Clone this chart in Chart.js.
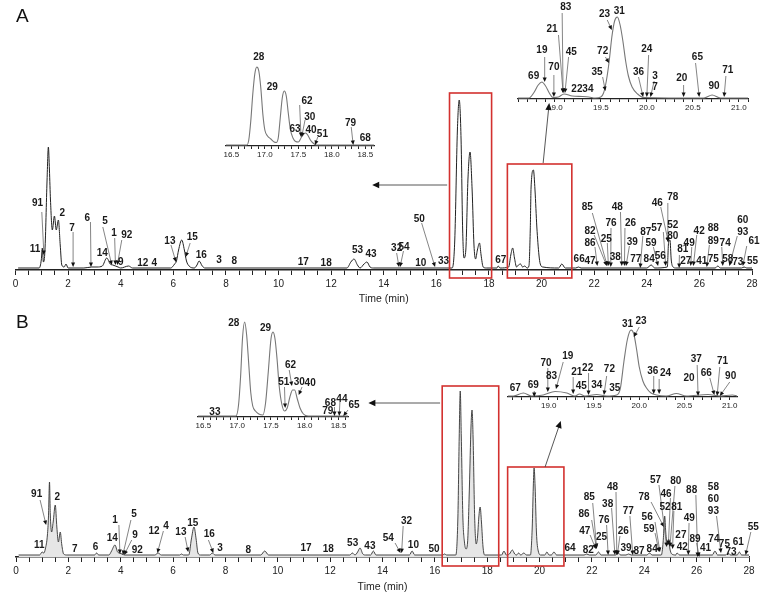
<!DOCTYPE html>
<html lang="en">
<head>
<meta charset="UTF-8">
<title>Chromatograms A and B</title>
<script src="https://cdn.jsdelivr.net/npm/chart.js"></script>
<style>
  html, body { margin: 0; padding: 0; background: #fff; overflow: hidden; }
  #page { position: relative; width: 773px; height: 593px; font-family: Arial, "Liberation Sans", sans-serif; }
  canvas { position: absolute; }
  .tag { position: absolute; font-size: 19px; line-height: 1; color: #111; }
</style>
</head>
<body>
<div id="page">
  <canvas id="mainA"></canvas>
  <canvas id="mainB"></canvas>
  <canvas id="insetA1"></canvas>
  <canvas id="insetA2"></canvas>
  <canvas id="insetB1"></canvas>
  <canvas id="insetB2"></canvas>
  <div class="tag" style="left:16px;top:6px">A</div>
  <div class="tag" style="left:16px;top:312px">B</div>
</div>

<script>
// ---- traces: [time (min), signal] ----
const traceA = [[0.1,2],[0.9,2],[0.98,10],[1.02,22],[1.06,8],[1.12,20],[1.2,90],[1.25,123],[1.29,100],[1.33,70],[1.4,40],[1.48,54],[1.55,40],[1.63,50],[1.7,25],[1.76,5],[1.85,3],[1.92,6],[2.0,2],[2.6,2],[2.9,3],[3.1,3],[3.3,4],[3.47,12],[3.6,6],[3.7,5],[3.8,4],[3.9,3],[4.0,2],[4.3,4],[4.45,2],[5.9,2],[6.05,6],[6.12,9],[6.2,20],[6.32,30],[6.42,20],[6.5,9],[6.6,4],[6.8,2],[6.9,5],[6.98,9],[7.1,4],[7.2,2],[12.6,2],[12.75,8],[12.87,11],[13.0,5],[13.1,2],[13.25,6],[13.36,8],[13.48,3],[13.6,2],[16.6,2],[16.7,30],[16.8,140],[16.87,170],[16.94,130],[17.0,40],[17.05,12],[17.12,20],[17.2,90],[17.28,118],[17.36,80],[17.43,25],[17.49,11],[17.56,20],[17.64,27],[17.7,15],[17.78,3],[17.9,2],[18.3,2],[18.35,4],[18.42,2],[18.75,3],[18.83,15],[18.9,22],[18.97,12],[19.05,3],[19.12,5],[19.2,6],[19.28,3],[19.36,4],[19.45,2],[19.52,4],[19.57,40],[19.6,82],[19.69,100],[19.75,80],[19.82,43],[19.9,15],[19.95,6],[20.05,3],[20.65,2],[20.77,6],[20.9,2],[21.3,2],[21.4,3],[21.5,2],[24.0,2],[24.17,5],[24.3,2],[24.78,3],[24.83,28],[24.88,30],[24.93,10],[25.0,3],[25.1,2],[26.6,2],[26.7,4],[26.8,2],[27.6,2],[27.7,3],[27.8,2],[28,2]];

const traceB = [[0.1,2],[0.9,2],[1.0,5],[1.06,4],[1.12,8],[1.2,22],[1.24,40],[1.28,75],[1.31,43],[1.36,25],[1.42,35],[1.5,52],[1.56,30],[1.62,15],[1.69,25],[1.75,12],[1.82,3],[1.95,2],[3.0,2],[3.08,4],[3.16,2],[3.55,2],[3.65,6],[3.78,12],[3.88,5],[3.95,4],[4.05,3],[4.15,2],[5.3,2],[5.43,4],[5.55,2],[6.25,2],[6.32,3],[6.4,2],[6.6,2],[6.7,18],[6.8,30],[6.88,18],[6.95,4],[7.05,2],[7.4,2],[7.5,4],[7.6,2],[9.35,2],[9.5,6],[9.65,2],[12.75,2],[12.85,4],[12.95,2],[13.05,5],[13.14,9],[13.25,3],[13.35,2],[13.55,2],[13.65,6],[13.75,2],[15.03,2],[15.13,6],[15.23,2],[16.3,2],[16.37,3],[16.45,2],[16.8,2],[16.88,40],[16.93,120],[16.97,166],[17.01,120],[17.07,40],[17.13,15],[17.19,8],[17.25,15],[17.32,70],[17.38,130],[17.42,147],[17.46,120],[17.52,40],[17.58,13],[17.63,20],[17.68,40],[17.73,50],[17.78,35],[17.84,10],[17.9,2],[18.55,2],[18.64,6],[18.73,2],[18.85,3],[18.96,7],[19.05,3],[19.12,2],[19.2,4],[19.28,2],[19.4,4],[19.5,2],[19.65,2],[19.72,30],[19.76,70],[19.79,89],[19.83,70],[19.88,25],[19.95,6],[20.05,2],[20.2,2],[20.28,5],[20.36,2],[20.45,2],[20.55,5],[20.65,2],[21.7,2],[21.8,3],[21.9,2],[22.15,2],[22.25,5],[22.35,2],[22.9,2],[23.0,4],[23.1,2],[23.3,2],[23.4,3],[23.5,2],[24.1,2],[24.2,4],[24.3,2],[24.65,2],[24.72,15],[24.78,41],[24.82,25],[24.88,12],[24.93,18],[24.98,8],[25.05,3],[25.2,2],[25.25,4],[25.35,2],[26.6,2],[26.7,6],[26.8,2],[27.1,2],[27.2,4],[27.3,2],[27.55,2],[27.63,5],[27.72,2],[28,2]];

const insetA1 = [[16.42,1],[16.73,1],[16.76,6],[16.79,25],[16.82,52],[16.85,72],[16.88,79],[16.91,75],[16.94,58],[16.97,32],[17.0,16],[17.04,10],[17.09,7],[17.14,4],[17.17,3.5],[17.2,8],[17.23,28],[17.26,48],[17.29,55],[17.32,50],[17.35,33],[17.38,17],[17.42,8],[17.46,4.5],[17.5,4],[17.54,8],[17.58,12],[17.61,13],[17.64,11],[17.68,6],[17.72,3],[17.77,1],[18.63,1]];
const insetA2 = [[18.6,1],[18.72,1],[18.77,6],[18.82,14],[18.86,17],[18.9,13],[18.94,6],[18.98,1.5],[19.04,2],[19.1,5],[19.19,3],[19.3,2.5],[19.37,2],[19.44,1],[19.5,2],[19.53,6],[19.56,18],[19.59,37],[19.62,62],[19.65,78],[19.68,82],[19.71,74],[19.74,58],[19.77,38],[19.8,23],[19.84,12],[19.9,5],[19.97,1.5],[20.62,1],[20.71,4],[20.8,1],[21.1,1]];
const insetB1 = [[16.42,1],[16.98,1],[17.02,12],[17.05,40],[17.08,80],[17.11,95],[17.14,82],[17.17,54],[17.2,25],[17.23,11],[17.27,6],[17.32,3],[17.38,2],[17.42,14],[17.46,45],[17.5,78],[17.53,85],[17.56,78],[17.59,58],[17.62,32],[17.66,13],[17.7,6],[17.74,9],[17.78,20],[17.82,27],[17.85,27],[17.89,18],[17.93,9],[17.98,3],[18.05,1],[18.64,1]];
const insetB2 = [[18.55,1],[18.61,1],[18.72,4],[18.81,1],[18.94,2],[19.07,5.5],[19.2,4],[19.29,1],[19.34,3],[19.4,1],[19.53,2.5],[19.64,1],[19.75,2],[19.79,8],[19.83,35],[19.87,58],[19.91,67],[19.94,63],[19.97,48],[20.0,30],[20.04,16],[20.08,9],[20.13,4],[20.19,2],[20.3,1],[20.41,3.5],[20.52,1],[20.76,2.5],[20.89,1],[21.03,2],[21.08,1]];

// ---- peak numbers: [text, time, height] and pointer arrows [t1, h1, t2, h2] ----
const labelsA = [['91',0.84,67],['2',1.78,57],['11',0.74,21],['7',2.15,42],['6',2.73,52],['5',3.40,49],['1',3.75,37],['92',4.23,35],['14',3.30,17],['9',4.00,8],['12',4.84,7],['4',5.28,7],['13',5.87,29],['15',6.72,33],['16',7.06,15],['3',7.74,10],['8',8.32,9],['17',10.94,8],['18',11.81,7],['53',13.0,20],['43',13.52,16],['32',14.49,22],['54',14.77,23],['10',15.41,7],['50',15.35,51],['33',16.27,9],['67',18.45,10],['66',21.43,11],['47',21.84,9],['86',21.84,27],['82',21.84,39],['85',21.74,63],['25',22.46,31],['38',22.80,13],['76',22.64,47],['48',22.88,63],['26',23.38,47],['39',23.45,28],['77',23.58,11],['87',23.96,38],['57',24.38,42],['59',24.16,27],['56',24.51,14],['84',24.09,11],['46',24.40,67],['78',24.99,73],['52',24.99,45],['80',24.99,34],['81',25.37,21],['49',25.61,27],['42',25.99,39],['27',25.48,9],['41',26.09,9],['88',26.53,42],['89',26.53,29],['75',26.53,11],['74',26.98,27],['58',27.08,11],['60',27.65,50],['93',27.65,38],['61',28.08,29],['73',27.46,8],['55',28.02,9]];
const arrowsA = [[1.0,58,1.08,15],[2.19,38,2.19,3],[2.85,48,2.87,3],[3.32,43,3.66,5],[3.77,32,3.80,5],[4.04,30,3.87,5],[5.91,25,6.1,8],[6.64,27,6.47,13],[15.44,47,15.95,3],[14.49,17,14.58,3],[14.75,19,14.62,3],[21.93,57,22.5,4],[22.0,35,22.48,4],[22.03,23,22.12,4],[22.5,27,22.54,4],[23.0,58,23.05,4],[22.64,42,22.63,3],[23.17,42,23.15,4],[23.34,24,23.21,4],[23.85,34,23.75,2],[24.25,23,24.43,4],[24.63,38,24.72,4],[24.53,63,24.82,28],[24.8,67,24.8,28],[25.24,15,25.23,2],[25.71,23,25.67,4],[25.9,35,25.77,4],[26.38,25,26.28,3],[26.85,23,26.89,4],[27.44,34,27.14,4],[27.8,24,27.65,4]];
const labelsB = [['91',0.79,63],['2',1.58,60],['11',0.89,12],['7',2.25,8],['6',3.04,10],['14',3.68,19],['1',3.78,37],['5',4.51,43],['9',4.55,22],['92',4.63,7],['12',5.27,26],['4',5.73,31],['13',6.30,25],['15',6.75,34],['16',7.38,23],['3',7.79,9],['8',8.87,7],['17',11.08,9],['18',11.93,8],['53',12.86,14],['43',13.52,11],['54',14.22,19],['32',14.92,36],['10',15.18,12],['50',15.97,8],['64',21.16,9],['82',21.86,7],['47',21.73,26],['86',21.70,43],['85',21.9,60],['25',22.37,20],['76',22.46,37],['38',22.6,53],['48',22.79,70],['26',23.2,26],['39',23.3,9],['77',23.39,46],['87',23.8,6],['84',24.3,8],['59',24.18,28],['56',24.11,40],['78',23.99,60],['57',24.43,77],['46',24.83,63],['52',24.79,50],['81',25.24,50],['80',25.2,76],['27',25.4,22],['42',25.45,10],['49',25.72,39],['88',25.81,67],['89',25.94,18],['41',26.34,9],['58',26.64,70],['60',26.64,58],['93',26.64,46],['74',26.66,18],['75',27.06,13],['73',27.31,5],['61',27.59,15],['55',28.16,30]];
const arrowsB = [[0.92,57,1.15,32],[3.93,32,3.97,3],[4.39,37,4.08,2],[4.42,17,4.13,2],[5.63,26,5.4,4],[6.46,20,6.58,5],[7.35,17,7.54,4],[14.79,31,14.73,4],[14.48,14,14.69,4],[22.03,54,22.18,9],[21.99,37,22.18,8],[21.93,22,22.15,8],[22.56,32,22.62,2],[22.75,49,22.88,2],[22.92,65,22.95,2],[23.07,21,22.97,2],[23.45,41,23.56,2],[24.41,35,24.6,5],[24.41,24,24.57,5],[24.26,55,24.75,30],[24.56,72,24.86,10],[25.0,59,24.92,12],[25.17,71,24.98,10],[25.13,46,25.08,8],[25.71,34,25.68,2],[25.97,62,26.04,0],[26.0,14,26.1,0],[26.76,41,26.93,4],[28.07,25,27.87,2]];
const labelsA1 = [['28',16.91,89],['29',17.11,59],['62',17.63,45],['30',17.67,29],['63',17.45,17],['40',17.69,16],['51',17.86,12],['79',18.28,23],['68',18.50,8]];
const arrowsA1 = [[17.52,41,17.54,9],[17.6,26,17.55,9],[17.79,9,17.75,1],[18.29,19,18.32,1]];
const labelsA2 = [['83',19.12,92],['21',18.97,70],['19',18.86,49],['45',19.18,47],['70',18.99,32],['69',18.77,23],['22',19.24,10],['34',19.36,10],['23',19.54,85],['31',19.70,88],['72',19.52,48],['35',19.46,27],['24',20.0,50],['36',19.91,27],['3',20.09,23],['7',20.09,12],['20',20.38,21],['65',20.55,42],['90',20.73,13],['71',20.88,29]];
const arrowsA2 = [[18.89,42,18.89,17],[18.99,24,18.99,2],[19.04,64,19.09,6],[19.08,86,19.09,6],[19.15,42,19.11,6],[19.57,79,19.62,69],[19.55,42,19.59,36],[19.52,22,19.55,8],[20.02,44,20.0,2],[19.91,22,19.96,2],[20.08,18,20.04,2],[20.40,14,20.40,2],[20.53,36,20.57,2],[20.86,23,20.84,2]];
const labelsB1 = [['28',16.95,94],['29',17.42,89],['62',17.79,52],['51',17.69,35],['30',17.92,35],['40',18.08,34],['33',16.67,5],['68',18.38,14],['44',18.55,18],['79',18.34,6],['65',18.73,12]];
const arrowsB1 = [[17.70,30,17.71,9],[17.77,47,17.81,31],[17.96,30,17.91,22],[18.44,10,18.44,1],[18.52,15,18.51,1],[18.64,7,18.57,1]];
const labelsB2 = [['67',18.63,9],['69',18.83,12],['70',18.97,34],['83',19.03,21],['19',19.21,41],['21',19.31,25],['45',19.36,11],['22',19.43,29],['34',19.53,12],['72',19.67,28],['35',19.73,9],['31',19.87,73],['23',20.02,76],['36',20.15,26],['24',20.29,24],['37',20.63,38],['20',20.55,19],['66',20.74,24],['71',20.92,36],['90',21.01,21]];
const arrowsB2 = [[18.84,6,18.84,0],[18.99,29,18.99,5],[19.16,35,19.08,8],[19.27,20,19.27,3],[19.44,24,19.44,2],[19.64,21,19.61,2],[20.0,70,19.94,60],[20.16,21,20.16,3],[20.22,18,20.22,3],[20.64,32,20.65,1],[20.78,19,20.83,2],[20.89,30,20.86,1],[21.0,15,20.89,1]];

// zoom windows [t0, t1, h0, h1] and the arrows that lead to the insets
const boxesA = [[16.5,18.1,-8,177],[18.7,21.15,-8,106]];
const linksA = [[16.41,85,13.56,85],[20.06,107,20.29,167]];
const boxesB = [[16.28,18.44,-9,171],[18.78,20.93,-9,90]];
const linksB = [[16.2,154,13.46,154],[20.21,90,20.81,136]];

function arrow(ctx, x1, y1, x2, y2, head, color, lw) {
  const a = Math.atan2(y2 - y1, x2 - x1);
  ctx.strokeStyle = color;
  ctx.lineWidth = lw;
  ctx.beginPath();
  ctx.moveTo(x1, y1);
  ctx.lineTo(x2 - Math.cos(a) * head * 0.7, y2 - Math.sin(a) * head * 0.7);
  ctx.stroke();
  const w = head * 0.45;
  ctx.fillStyle = '#111';
  ctx.beginPath();
  ctx.moveTo(x2, y2);
  ctx.lineTo(x2 - head * Math.cos(a) + w * Math.sin(a), y2 - head * Math.sin(a) - w * Math.cos(a));
  ctx.lineTo(x2 - head * Math.cos(a) - w * Math.sin(a), y2 - head * Math.sin(a) + w * Math.cos(a));
  ctx.closePath();
  ctx.fill();
}

const notes = {
  id: 'notes',
  afterDraw(chart, args, opts) {
    const ctx = chart.ctx;
    const px = t => chart.scales.x.getPixelForValue(t);
    const py = h => chart.scales.y.getPixelForValue(h);
    ctx.save();
    (opts.boxes || []).forEach(([t0, t1, h0, h1]) => {
      ctx.strokeStyle = '#d3312f';
      ctx.lineWidth = 1.6;
      ctx.strokeRect(px(t0), py(h1), px(t1) - px(t0), py(h0) - py(h1));
    });
    (opts.links || []).forEach(a => arrow(ctx, px(a[0]), py(a[1]), px(a[2]), py(a[3]), 7, '#444', 0.9));
    (opts.arrows || []).forEach(a => arrow(ctx, px(a[0]), py(a[1]), px(a[2]), py(a[3]), 4.5, '#666', 0.8));
    ctx.font = 'bold 10px Arial, "Liberation Sans", sans-serif';
    ctx.fillStyle = '#1a1a1a';
    ctx.textAlign = 'center';
    ctx.textBaseline = 'middle';
    (opts.labels || []).forEach(([s, t, h]) => ctx.fillText(s, px(t), py(h)));
    ctx.restore();
  }
};

const evenMin = v => (Math.abs(v % 2) < 1e-9 ? String(v) : '');
const halfMin = v => {
  const k = Math.round(v * 10);
  return (k % 5 === 0 && Math.abs(v * 10 - k) < 1e-6) ? (k / 10).toFixed(1) : '';
};

// area = wanted plot rectangle on the page, the canvas is placed around it
function makeChart(id, area, cfg) {
  const pad = cfg.pad;
  const cv = document.getElementById(id);
  cv.width = area.r - area.l + pad.left + pad.right;
  cv.height = area.b - area.t + pad.top + cfg.axisH;
  cv.style.left = (area.l - pad.left) + 'px';
  cv.style.top = (area.t - pad.top) + 'px';
  return new Chart(cv, {
    type: 'line',
    data: {
      datasets: [{
        data: cfg.data.map(p => ({ x: p[0], y: p[1] })),
        borderColor: cfg.color,
        borderWidth: cfg.lw,
        pointRadius: 0,
        fill: cfg.fill ? 'origin' : false,
        backgroundColor: cfg.fill || 'transparent',
        cubicInterpolationMode: 'monotone'
      }]
    },
    options: {
      responsive: false,
      animation: false,
      layout: { padding: { left: pad.left, right: pad.right, top: pad.top, bottom: 0 } },
      plugins: { legend: { display: false }, tooltip: { enabled: false }, notes: cfg.notes },
      scales: {
        x: {
          type: 'linear', min: cfg.xMin, max: cfg.xMax,
          afterFit: s => { s.height = cfg.axisH; },
          border: { display: true, color: '#222', width: cfg.axisW },
          grid: { drawOnChartArea: false, drawTicks: true, tickLength: cfg.tickLen, tickColor: '#222', tickWidth: 1 },
          ticks: {
            stepSize: cfg.step, autoSkip: false, maxRotation: 0, includeBounds: false,
            padding: cfg.tickPad, color: '#222',
            font: { size: cfg.fontSize, family: 'Arial, "Liberation Sans", sans-serif' },
            callback: cfg.fmt
          },
          title: cfg.title
            ? { display: true, text: cfg.title, color: '#222', font: { size: 10.5, family: 'Arial, "Liberation Sans", sans-serif' }, padding: { top: 0, bottom: 0 } }
            : { display: false }
        },
        y: { display: false, min: 0, max: area.b - area.t }
      }
    },
    plugins: [notes]
  });
}

makeChart('mainA', { l: 15.5, r: 752, t: 20, b: 270 }, {
  pad: { left: 15.5, right: 21, top: 20 }, axisH: 35, data: traceA, color: '#222', lw: 1,
  xMin: 0, xMax: 28, step: 0.5, fmt: evenMin, tickLen: 5, tickPad: 3, fontSize: 10, axisW: 1.5,
  title: 'Time (min)',
  notes: { labels: labelsA, arrows: arrowsA, boxes: boxesA, links: linksA }
});
makeChart('mainB', { l: 16, r: 749, t: 320, b: 557 }, {
  pad: { left: 16, right: 24, top: 15 }, axisH: 36, data: traceB, color: '#333', lw: 0.9, fill: '#e6e6e6',
  xMin: 0, xMax: 28, step: 0.5, fmt: evenMin, tickLen: 5, tickPad: 3, fontSize: 10, axisW: 1.5,
  title: 'Time (min)',
  notes: { labels: labelsB, arrows: arrowsB, boxes: boxesB, links: linksB }
});
makeChart('insetA1', { l: 225.6, r: 373.9, t: 60, b: 146 }, {
  pad: { left: 14, right: 14, top: 14 }, axisH: 14, data: insetA1, color: '#777', lw: 1.1,
  xMin: 16.42, xMax: 18.63, step: 0.1, fmt: halfMin, tickLen: 3, tickPad: 1, fontSize: 8, axisW: 1.3,
  notes: { labels: labelsA1, arrows: arrowsA1 }
});
makeChart('insetA2', { l: 517.5, r: 747.5, t: 12, b: 99 }, {
  pad: { left: 14, right: 14, top: 12 }, axisH: 14, data: insetA2, color: '#777', lw: 1.1,
  xMin: 18.6, xMax: 21.1, step: 0.1, fmt: halfMin, tickLen: 3, tickPad: 1, fontSize: 8, axisW: 1.3,
  notes: { labels: labelsA2, arrows: arrowsA2 }
});
makeChart('insetB1', { l: 197.6, r: 347.9, t: 310, b: 417 }, {
  pad: { left: 14, right: 14, top: 2 }, axisH: 14, data: insetB1, color: '#777', lw: 1.1,
  xMin: 16.42, xMax: 18.64, step: 0.1, fmt: halfMin, tickLen: 3, tickPad: 1, fontSize: 8, axisW: 1.3,
  notes: { labels: labelsB1, arrows: arrowsB1 }
});
makeChart('insetB2', { l: 508.2, r: 737.7, t: 318, b: 397 }, {
  pad: { left: 14, right: 14, top: 2 }, axisH: 14, data: insetB2, color: '#777', lw: 1.1,
  xMin: 18.55, xMax: 21.08, step: 0.1, fmt: halfMin, tickLen: 3, tickPad: 1, fontSize: 8, axisW: 1.3,
  notes: { labels: labelsB2, arrows: arrowsB2 }
});
</script>
</body>
</html>
